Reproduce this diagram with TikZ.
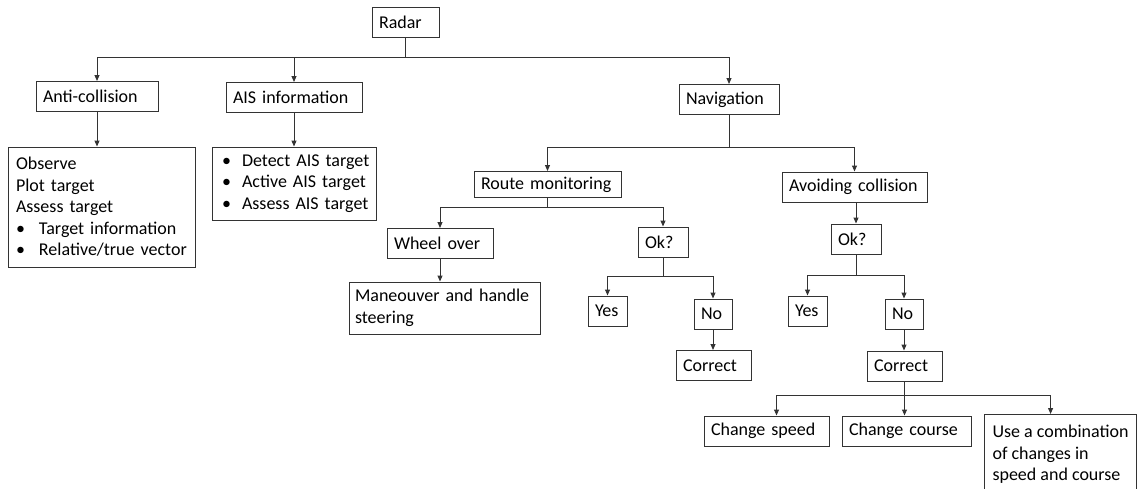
\documentclass[tikz,border=0pt]{standalone}
\usepackage{fontspec}
\setmainfont{Carlito}
\usetikzlibrary{arrows.meta}
\newcommand{\blt}[1]{\makebox[#1][l]{\textbullet}}
\tikzset{
  box/.style={draw=black!80, line width=1pt, inner xsep=7pt, inner ysep=0pt,
    minimum height=30pt, align=left, font=\fontsize{18}{21.5}\selectfont},
  link/.style={draw=black!80, line width=1pt},
  arr/.style={link, -{Triangle[length=6pt,width=5pt]}},
}
\begin{document}
\begin{tikzpicture}[x=1pt,y=-1pt]
      \clip (0,0) rectangle (1139,488);
%
      \node[box, text width=53] (radar) at (405.5,22) {Radar};
      \node[box, text width=108] (anti) at (97,96.5) {Anti-collision};
      \node[box, text width=122] (ais) at (294,97.5) {AIS information};
      \node[box, text width=86] (nav) at (729,99.5) {Navigation};
      %
      \node[box, text width=175, inner xsep=6pt, minimum height=120] (antilist) at (101.5,207)
      {\hspace*{2pt}Observe\\\hspace*{2pt}Plot target\\\hspace*{2pt}Assess target\\
       \hspace*{2pt}\blt{23pt}Target information\\\hspace*{2pt}\blt{23pt}Relative/true vector};
      \node[box, text width=158, inner xsep=3pt, minimum height=73] (aislist) at (294,183.5)
      {\hspace*{7pt}\blt{20pt}Detect AIS target\\\hspace*{7pt}\blt{20pt}Active AIS target\\
       \hspace*{7pt}\blt{20pt}Assess AIS target};
%
      \node[box, text width=133, minimum height=26] (route) at (547.5,184.5) {Route monitoring};
      \node[box, text width=131] (avoid) at (854.5,187) {Avoiding collision};
%
      \node[box, text width=92] (wheel) at (440,243.5) {Wheel over};
      \node[box, text width=36] (okL) at (663,242) {Ok?};
      \node[box, text width=179, inner xsep=6pt, minimum height=52] (man) at (444.5,308)
      {Maneouver and handle\\steering};
      \node[box, text width=25] (yesL) at (607.5,311) {Yes};
      \node[box, text width=24] (noL) at (713,314) {No};
      \node[box, text width=61] (corL) at (713.5,365.5) {Correct};
%
      \node[box, text width=36] (okR) at (856,239) {Ok?};
      \node[box, text width=25] (yesR) at (807.5,311) {Yes};
      \node[box, text width=24] (noR) at (904,314) {No};
      \node[box, text width=61] (corR) at (904.5,366) {Correct};
%
      \node[box, text width=111] (cspeed) at (766.5,431) {Change speed};
      \node[box, text width=115] (ccourse) at (906.5,431) {Change course};
      \node[box, inner xsep=8pt, minimum height=80, anchor=north west] (combo) at (984,414)
      {Use a combination\\of changes in\\speed and course};
%
      % tree links
      \foreach \c in {anti,ais,nav}
        \draw[arr] (radar.south) -- ++(0,20) -| (\c.north);
      \draw[arr] (anti.south) -- (anti.south |- antilist.north);
      \draw[arr] (ais.south) -- (ais.south |- aislist.north);
      \foreach \c in {route,avoid}
        \draw[arr] (nav.south) -- ++(0,32) -| (\c.north);
      \foreach \c in {wheel,okL}
        \draw[arr] (route.south) -- ++(0,9) -| (\c.north);
      \draw[arr] (wheel.south) -- (wheel.south |- man.north);
      \foreach \c in {yesL,noL}
        \draw[arr] (okL.south) -- ++(0,19) -| (\c.north);
      \draw[arr] (noL.south) -- (noL.south |- corL.north);
%
      \draw[arr] (okR.north |- avoid.south) -- (okR.north);
      \foreach \c in {yesR,noR}
        \draw[arr] (okR.south) -- ++(0,21) -| (\c.north);
      \draw[arr] (noR.south) -- (noR.south |- corR.north);
      \draw[arr] (corR.south) -- ++(0,14) -| ([xshift=10pt]cspeed.north);
      \draw[arr] (corR.south) -- (corR.south |- ccourse.north);
      \draw[arr] (corR.south) -- ++(0,14) -| ([xshift=-10pt]combo.north);
   \end{tikzpicture}
\end{document}
